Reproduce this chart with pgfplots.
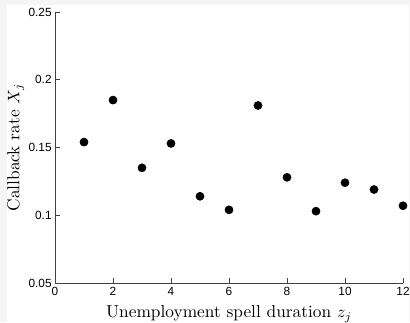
\documentclass[border=0pt]{standalone}
\usepackage{fontspec}
\usepackage{pgfplots}
\pgfplotsset{compat=1.18}
\newfontfamily\ticksans{Liberation Sans}
\begin{document}
\begin{tikzpicture}
\useasboundingbox (-33pt,-23.4pt) rectangle (213pt,169.8pt);
\fill[black!4] (-33pt,-23.4pt) rectangle (213pt,169.8pt);
\fill[white] (-28.8pt,-23.4pt) rectangle (212.4pt,166.8pt);
\begin{axis}[
  scale only axis,
  width=208.8pt, height=162.6pt,
  xmin=0, xmax=12, ymin=0.05, ymax=0.25,
  axis x line*=bottom, axis y line*=left,
  axis line style={-, black!75, line width=0.5pt},
  xtick={0,2,4,6,8,10,12},
  ytick={0.05,0.1,0.15,0.2,0.25},
  yticklabels={0.05,0.1,0.15,0.2,0.25},
  tick align=inside,
  major tick length=3pt,
  tick style={black!75, line width=0.5pt},
  ticklabel style={font=\ticksans\fontsize{7.1}{8}\selectfont},
  /pgf/number format/assume math mode=true,
  xticklabel style={yshift=1pt},
  yticklabel style={xshift=1.5pt},
  xlabel={Unemployment spell duration $z_j$},
  ylabel={Callback rate $X_j$},
  label style={font=\fontsize{10.4}{12}\selectfont},
  xlabel style={at={(axis description cs:0.5,0)}, anchor=north, yshift=-10pt},
  ylabel style={at={(axis description cs:0,0.5)}, anchor=south, xshift=0pt, yshift=15pt},
  clip=false,
]
\addplot[only marks, mark=*, mark size=2.4pt, black] coordinates {
(1,0.154) (2,0.185) (3,0.135) (4,0.153) (5,0.114) (6,0.104)
(7,0.181) (8,0.128) (9,0.103) (10,0.124) (11,0.119) (12,0.107)
};
\end{axis}
\end{tikzpicture}
\end{document}
